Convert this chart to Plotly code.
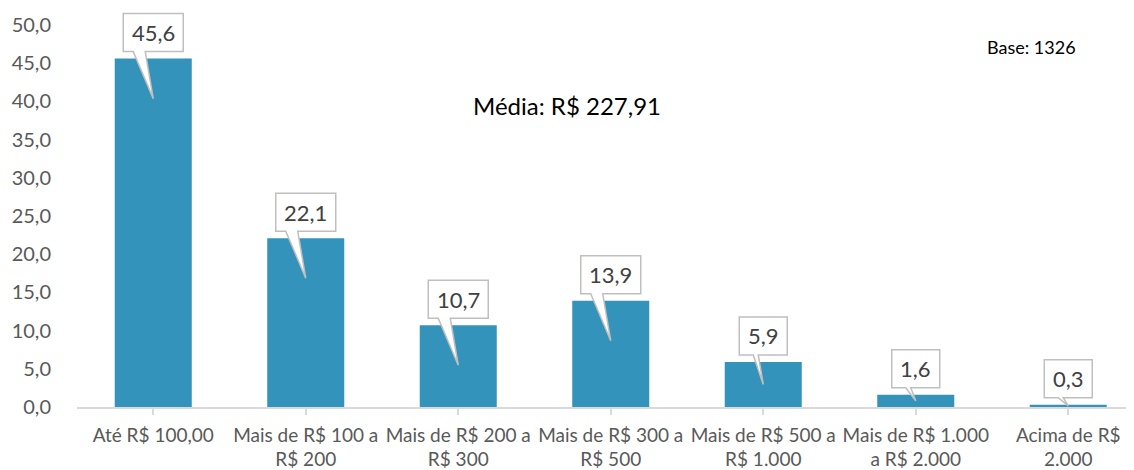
import plotly.graph_objects as go

categories = ["Até R$ 100,00", "Mais de R$ 100 a<br>R$ 200", "Mais de R$ 200 a<br>R$ 300",
              "Mais de R$ 300 a<br>R$ 500", "Mais de R$ 500 a<br>R$ 1.000",
              "Mais de R$ 1.000<br>a R$ 2.000", "Acima de R$<br>2.000"]
values = [45.6, 22.1, 10.7, 13.9, 5.9, 1.6, 0.3]
value_labels = ["45,6", "22,1", "10,7", "13,9", "5,9", "1,6", "0,3"]
y_ticks = [0, 5, 10, 15, 20, 25, 30, 35, 40, 45, 50]

FONT = "Lato"
# page body has an 8px margin, so the figure is a bit smaller than the window
W, H = 1126, 462
ML, MR, MT, MB = 69, 0, 0, 63
PPU = 7.64
Y_MAX = (H - MT - MB) / PPU
X_RANGE = [-0.5, -0.5 + (W - ML - MR) / 152.5]
ppu = (H - MT - MB) / Y_MAX

x = list(range(len(categories)))

fig = go.Figure()
fig.add_trace(go.Bar(x=x, y=values, width=0.505, marker=dict(color="#3493BA", line=dict(width=0)),
                     hoverinfo="skip"))

shapes = []
annotations = []
for i, (v, lab) in enumerate(zip(values, value_labels)):
    w = 30 if len(lab) >= 4 else 24
    b = 7
    h = 38
    d = min(40, v * ppu / 2)
    b1 = -w + 10 if len(lab) >= 4 else -10
    b2 = -w + 22 if len(lab) >= 4 else -5
    path = (f"M {-w},{b} L {-w},{b+h} L {w},{b+h} L {w},{b} "
            f"L {b2},{b} L 0,{-d} L {b1},{b} Z")
    shapes.append(dict(type="path", xref="x", yref="y", xsizemode="pixel", ysizemode="pixel",
                       xanchor=i, yanchor=v, path=path, fillcolor="white",
                       line=dict(color="#BFBFBF", width=1.5), layer="above"))
    annotations.append(dict(x=i, y=v, xref="x", yref="y", text=lab, showarrow=False,
                            yshift=b + h / 2, yanchor="middle",
                            font=dict(family=FONT, size=22, color="#404040")))

annotations.append(dict(x=(567 - 8 - ML) / (W - ML - MR), y=(399 - 97) / (H - MT - MB),
                        xref="paper", yref="paper", text="Média: R$ 227,91",
                        showarrow=False, xanchor="center", yanchor="middle",
                        font=dict(family=FONT, size=24, color="#000000")))
annotations.append(dict(x=(1031 - 8 - ML) / (W - ML - MR), y=(399 - 39) / (H - MT - MB),
                        xref="paper", yref="paper", text="Base: 1326",
                        showarrow=False, xanchor="center", yanchor="middle",
                        font=dict(family=FONT, size=18, color="#000000")))

fig.update_layout(
    width=W, height=H,
    margin=dict(l=ML, r=MR, t=MT, b=MB),
    paper_bgcolor="white", plot_bgcolor="white",
    separators=",.",
    showlegend=False,
    shapes=shapes,
    annotations=annotations,
    font=dict(family=FONT, color="#595959"),
    xaxis=dict(tickmode="array", tickvals=x, ticktext=categories, range=X_RANGE,
               showgrid=False, zeroline=False, showline=True, linecolor="#D9D9D9", linewidth=1.5,
               ticks="outside", tickson="boundaries", ticklen=6, tickcolor="#D9D9D9", tickwidth=1.5,
               ticklabelstandoff=4,
               tickfont=dict(family=FONT, size=19, color="#595959")),
    yaxis=dict(range=[0, Y_MAX], tickmode="array", tickvals=y_ticks, tickformat=".1f",
               showgrid=False, zeroline=False, showline=False, ticks="",
               ticklabelstandoff=25,
               tickfont=dict(family=FONT, size=20, color="#595959")),
)

fig.write_html("out.html")
